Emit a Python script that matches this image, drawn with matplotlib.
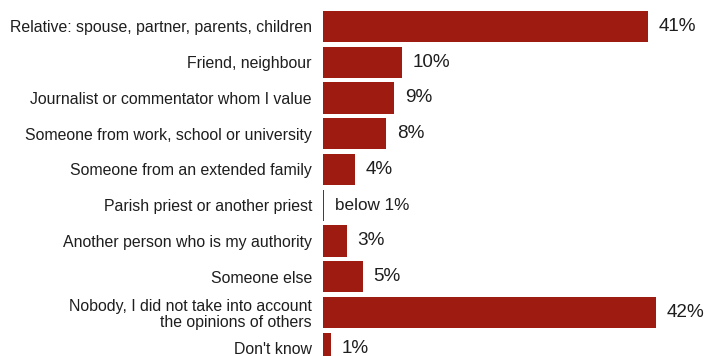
import matplotlib
matplotlib.use("Agg")
import matplotlib.pyplot as plt

plt.rcParams['font.family'] = ['Liberation Sans', 'DejaVu Sans']

categories = [
    "Relative: spouse, partner, parents, children",
    "Friend, neighbour",
    "Journalist or commentator whom I value",
    "Someone from work, school or university",
    "Someone from an extended family",
    "Parish priest or another priest",
    "Another person who is my authority",
    "Someone else",
    "Nobody, I did not take into account\nthe opinions of others",
    "Don't know",
]
values = [41, 10, 9, 8, 4, 0.15, 3, 5, 42, 1]
value_labels = ["41%", "10%", "9%", "8%", "4%", "below 1%", "3%", "5%", "42%", "1%"]

fig = plt.figure(figsize=(7.06, 3.56), dpi=100)
ax = fig.add_axes([323 / 706, 0, 383 / 706, 1])

ypos = list(range(len(categories)))
ax.barh(ypos, values, height=0.87, color='#9e1b11')

ax.set_xlim(0, 383 / 7.93)
ax.set_ylim(9.217, -0.741)
ax.set_yticks(ypos)
ax.set_yticklabels(categories, fontsize=11.4, color='#1e1e1e', linespacing=1.12)
ax.tick_params(axis='y', length=0, pad=8)
ax.set_xticks([])
for s in ax.spines.values():
    s.set_visible(False)

for y, v, lab in zip(ypos, values, value_labels):
    fs = 12.3 if lab.startswith("below") else 13.6
    ax.annotate(lab, (v, y), xytext=(7.5, 0), textcoords='offset points',
                va='center', ha='left', fontsize=fs, color='#1e1e1e')

fig.savefig("out.png", dpi=100)
